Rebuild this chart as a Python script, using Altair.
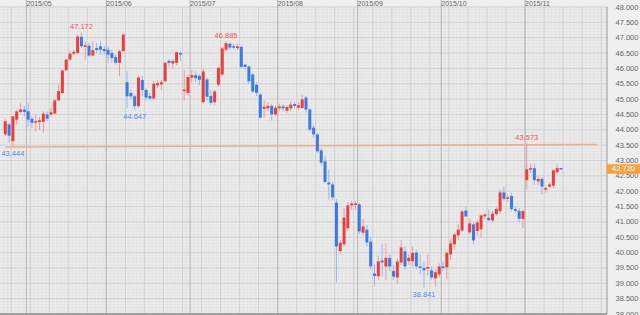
import altair as alt
import pandas as pd

# ---------------- data (daily candles) ----------------
start_date = "2015-04-23"

opens = [43.85, 44.17, 43.63, 44.33, 44.58, 44.66, 44.60, 44.36, 44.23, 44.25,
         44.26, 44.50, 44.50, 44.53, 44.96, 45.20, 45.94, 46.29, 46.48, 46.50,
         47.03, 46.70, 46.74, 46.42, 46.66, 46.72, 46.63, 46.61, 46.50, 46.37,
         46.18, 46.56, 45.55, 45.20, 45.09, 44.77, 45.62, 45.30, 45.10, 45.02,
         45.45, 45.48, 45.58, 46.25, 46.16, 46.18, 46.50, 45.26, 45.20, 45.70,
         45.78, 45.76, 44.90, 45.64, 45.10, 44.90, 45.47, 45.80, 46.61, 46.80,
         46.72, 46.66, 46.70, 46.12, 46.06, 45.80, 45.47, 45.15, 44.68, 44.70,
         44.78, 44.50, 44.70, 44.76, 44.62, 44.70, 44.84, 44.72, 44.71, 45.05,
         44.66, 44.07, 43.85, 43.33, 42.97, 42.28, 42.22, 41.63, 40.05, 40.27,
         40.79, 41.54, 41.55, 41.57, 40.65, 40.75, 40.36, 39.32, 39.23, 39.74,
         39.55, 39.83, 39.40, 39.19, 39.68, 40.04, 39.72, 39.72, 40.00, 39.55,
         39.50, 39.48, 39.42, 39.16, 39.29, 39.55, 39.52, 39.94, 40.27, 40.56,
         40.72, 41.37, 40.66, 40.92, 40.70, 40.76, 41.18, 41.13, 41.05, 41.25,
         41.35, 41.96, 41.75, 41.84, 41.42, 41.36, 41.10, 42.36, 42.70, 42.75,
         42.32, 42.40, 42.05, 42.15, 42.18, 42.62, 42.74]
highs = [44.35, 44.23, 44.45, 44.66, 44.88, 44.77, 44.88, 44.44, 44.50, 44.42,
         44.60, 44.60, 44.72, 45.00, 45.47, 45.96, 46.30, 46.56, 46.60, 47.10,
         47.172, 46.87, 46.83, 46.88, 46.83, 46.88, 46.72, 46.72, 46.61, 46.45,
         46.61, 47.15, 45.91, 45.31, 45.15, 45.75, 45.75, 45.35, 45.20, 45.60,
         45.62, 45.62, 46.22, 46.30, 46.30, 46.55, 46.55, 45.96, 45.78, 45.95,
         45.90, 45.80, 46.00, 45.70, 45.30, 45.30, 46.05, 46.70, 46.885, 46.85,
         46.80, 46.82, 46.75, 46.15, 46.10, 45.85, 45.55, 45.20, 44.95, 44.90,
         44.85, 44.80, 44.85, 44.85, 44.80, 44.92, 44.90, 44.90, 45.15, 45.10,
         44.70, 44.15, 43.90, 43.40, 43.15, 42.70, 42.30, 41.75, 40.40, 41.45,
         41.65, 41.68, 41.68, 41.63, 41.10, 40.90, 40.50, 39.62, 39.90, 40.28,
         40.30, 39.95, 39.60, 39.80, 40.40, 40.20, 39.95, 40.20, 40.10, 39.95,
         39.70, 39.95, 39.55, 39.45, 39.65, 39.70, 40.05, 40.45, 40.65, 40.92,
         41.40, 41.52, 41.10, 40.98, 41.05, 41.26, 41.30, 41.40, 41.35, 41.50,
         42.06, 42.15, 41.90, 41.95, 41.50, 41.45, 41.40, 43.573, 42.90, 42.90,
         42.50, 42.45, 42.15, 42.28, 42.72, 42.88, 42.76]
lows = [43.80, 43.58, 43.444, 44.17, 44.53, 44.44, 44.12, 44.06, 43.95, 44.01,
        43.90, 44.28, 44.44, 44.50, 44.93, 45.15, 45.92, 46.23, 46.44, 46.45,
        46.67, 46.29, 46.38, 46.39, 46.50, 46.45, 46.45, 46.18, 46.18, 46.12,
        45.75, 46.55, 44.70, 44.99, 44.647, 44.72, 45.10, 44.95, 44.95, 44.98,
        45.35, 45.30, 45.55, 46.05, 46.00, 46.10, 46.24, 44.95, 45.10, 45.55,
        45.55, 45.45, 44.85, 44.95, 44.80, 44.80, 45.40, 45.75, 46.55, 46.60,
        46.62, 46.60, 45.98, 45.95, 45.50, 45.20, 45.10, 44.35, 44.40, 44.60,
        44.30, 44.45, 44.62, 44.60, 44.55, 44.60, 44.70, 44.65, 44.70, 44.55,
        43.95, 43.75, 43.25, 42.85, 42.25, 41.73, 41.70, 39.02, 39.95, 40.20,
        40.70, 41.40, 41.40, 40.60, 40.55, 40.20, 39.45, 38.91, 39.10, 39.22,
        39.10, 39.40, 39.10, 38.98, 39.60, 39.45, 39.60, 39.55, 39.45, 39.30,
        38.841, 39.25, 39.10, 38.88, 39.20, 39.40, 39.13, 39.75, 40.10, 40.40,
        40.68, 41.15, 40.60, 40.27, 40.55, 40.50, 41.10, 41.02, 41.00, 41.20,
        41.25, 41.70, 41.65, 41.35, 41.30, 40.98, 40.80, 42.06, 42.60, 42.20,
        42.20, 41.89, 41.95, 42.10, 42.10, 42.55, 42.70]
closes = [44.28, 43.81, 44.44, 44.60, 44.66, 44.58, 44.33, 44.23, 44.28, 44.31,
          44.53, 44.36, 44.57, 44.96, 45.26, 45.93, 46.29, 46.48, 46.54, 47.04,
          46.72, 46.75, 46.42, 46.59, 46.60, 46.61, 46.56, 46.45, 46.34, 46.18,
          46.56, 47.10, 45.09, 45.09, 44.77, 45.70, 45.30, 45.05, 45.02, 45.50,
          45.52, 45.55, 46.18, 46.18, 46.24, 46.53, 46.45, 45.31, 45.72, 45.78,
          45.68, 45.63, 45.90, 45.08, 44.88, 45.25, 46.02, 46.65, 46.82, 46.68,
          46.68, 46.72, 46.05, 46.05, 45.58, 45.25, 45.21, 44.40, 44.75, 44.78,
          44.50, 44.72, 44.76, 44.70, 44.74, 44.82, 44.78, 44.80, 44.99, 44.66,
          44.01, 43.85, 43.30, 42.93, 42.30, 42.22, 41.80, 40.20, 40.32, 41.14,
          41.54, 41.60, 41.60, 40.69, 40.85, 40.33, 39.55, 39.24, 39.71, 39.68,
          39.83, 39.55, 39.22, 39.71, 40.17, 39.55, 39.83, 39.99, 39.55, 39.50,
          39.42, 39.53, 39.19, 39.36, 39.55, 39.50, 39.99, 40.30, 40.59, 40.75,
          41.34, 41.18, 40.95, 40.40, 40.98, 41.21, 41.24, 41.06, 41.27, 41.42,
          41.96, 41.75, 41.80, 41.42, 41.36, 41.10, 41.35, 42.71, 42.75, 42.36,
          42.40, 42.15, 42.10, 42.22, 42.68, 42.75, 42.72]

# labelled highs / lows (candle index, value)
high_idx = [20, 58, 137]
high_val = [47.172, 46.885, 43.573]
low_idx = [2, 34, 110]
low_val = [43.444, 44.647, 38.841]

# orange trend line (candle index, value)
trend_idx = [0, 155.5]
trend_val = [43.44, 43.52]

y_ticks = [38.0, 38.5, 39.0, 39.5, 40.0, 40.5, 41.0, 41.5, 42.0, 42.5, 43.0,
           43.5, 44.0, 44.5, 45.0, 45.5, 46.0, 46.5, 47.0, 47.5, 48.0]

# ---------------- tables ----------------
n = len(opens)
n_slots = 158
all_dates = pd.bdate_range(start_date, periods=n_slots)

df = pd.DataFrame({"i": list(range(n)), "open": opens, "high": highs,
                   "low": lows, "close": closes})
df["up"] = df["close"] >= df["open"]
lo = df[["open", "close"]].min(axis=1)
hi = df[["open", "close"]].max(axis=1)
mid = (lo + hi) / 2
small = (hi - lo) < 0.05
df["blo"] = lo.where(~small, mid - 0.025)
df["bhi"] = hi.where(~small, mid + 0.025)

grid_all = pd.DataFrame({"g": [k - 0.45 for k in range(n_slots)]})
mondays = pd.DataFrame({"g": [k - 0.45 for k in range(n_slots)
                              if all_dates[k].weekday() == 0]})
m_rows = []
for k in range(1, n_slots):
    if all_dates[k].month != all_dates[k - 1].month:
        m_rows.append({"g": k - 0.45, "label": all_dates[k].strftime("%Y/%m")})
months = pd.DataFrame(m_rows)

h_minor = pd.DataFrame({"v": [round(38.0 + 0.1 * k, 2) for k in range(101)]})
h_major = pd.DataFrame({"v": y_ticks})

hl = pd.DataFrame({"i": high_idx, "v": high_val,
                   "t": [f"{v:.3f}" for v in high_val]})
ll = pd.DataFrame({"i": low_idx, "v": low_val,
                   "t": [f"{v:.3f}" for v in low_val]})
trend = pd.DataFrame({"i": trend_idx, "v": trend_val})
last = closes[-1]
tag = pd.DataFrame({"v": [last], "v1": [last - 0.155], "v2": [last + 0.155],
                    "t": [f"{last:.3f}"]})

# ---------------- chart ----------------
W, H = 607, 307
FONT = "Liberation Sans, Arial, sans-serif"
RED, BLUE = "#e8403f", "#3b7be3"
RED_W, BLUE_W = "#f19a9a", "#94b9f0"

xs = alt.Scale(domain=[-0.08, 156.77], nice=False, zero=False)
ys = alt.Scale(domain=[38.0, 48.0], nice=False, zero=False)
yaxis = alt.Axis(orient="right", values=y_ticks, format=".3f", title=None,
                 grid=False, domain=False, ticks=False, labelPadding=8,
                 labelFontSize=7.5, labelColor="#666666", labelFont=FONT,
                 labelAlign="left", labelOverlap=False, labelFlush=False,
                 labelBound=False)


def X(f):
    return alt.X(f, type="quantitative", scale=xs, axis=None)


def Y(f):
    return alt.Y(f, type="quantitative", scale=ys, axis=yaxis)


hminor = alt.Chart(h_minor).mark_rule(color="#e2e2e2", strokeWidth=1).encode(
    y=Y("v"), x=alt.value(0), x2=alt.value(W))
vminor = alt.Chart(grid_all).mark_rule(color="#e4e4e4", strokeWidth=1).encode(
    x=X("g"), y=alt.value(0), y2=alt.value(H))
hmajor = alt.Chart(h_major).mark_rule(color="#d2d2d2", strokeWidth=1).encode(
    y=Y("v"), x=alt.value(0), x2=alt.value(W))
vweek = alt.Chart(mondays).mark_rule(color="#d0d0d0", strokeWidth=1).encode(
    x=X("g"), y=alt.value(0), y2=alt.value(H))
vmonth = alt.Chart(months).mark_rule(color="#bcbcbc", strokeWidth=1.2).encode(
    x=X("g"), y=alt.value(-7), y2=alt.value(H))
mlabels = alt.Chart(months).mark_text(
    align="left", baseline="middle", fontSize=7, font=FONT, color="#666666",
    dx=0).encode(x=X("g"), y=alt.value(-3.3), text="label:N")

trendline = alt.Chart(trend).mark_line(color="#f2ad84", strokeWidth=1.6).encode(
    x=X("i"), y=Y("v"))

wicks = alt.Chart(df).mark_rule(strokeWidth=1).encode(
    x=X("i"), y=Y("low"), y2=alt.Y2("high"),
    color=alt.condition("datum.up", alt.value(RED_W), alt.value(BLUE_W)))
bodies = alt.Chart(df).mark_bar(size=3).encode(
    x=X("i"), y=Y("blo"), y2=alt.Y2("bhi"),
    color=alt.condition("datum.up", alt.value(RED), alt.value(BLUE)))

hitext = alt.Chart(hl).mark_text(
    baseline="bottom", dy=-1, fontSize=7.5, font=FONT, color="#f05555").encode(
    x=X("i"), y=Y("v"), text="t:N")
lotext = alt.Chart(ll).mark_text(
    baseline="top", dy=3, fontSize=7.5, font=FONT, color="#4a8fe6").encode(
    x=X("i"), y=Y("v"), text="t:N")

border_r = alt.Chart(tag).mark_rule(color="#9a9a9a", strokeWidth=1).encode(
    x=alt.value(W), y=alt.value(0), y2=alt.value(H))
border_b = alt.Chart(tag).mark_rule(color="#8c8c8c", strokeWidth=1.5).encode(
    y=alt.value(H), x=alt.value(0), x2=alt.value(W))

tag_box = alt.Chart(tag).mark_rect(color="#f6a13c").encode(
    x=alt.value(W), x2=alt.value(640), y=Y("v1"), y2=alt.Y2("v2"))
tag_txt = alt.Chart(tag).mark_text(
    align="center", baseline="middle", fontSize=7.5, font=FONT,
    color="#ffffff").encode(x=alt.value(W + 16.5), y=Y("v"), text="t:N")

chart = alt.layer(
    hminor, vminor, hmajor, vweek, vmonth, mlabels, trendline,
    wicks, bodies, hitext, lotext, border_r, border_b, tag_box, tag_txt
).properties(
    width=W, height=H,
    padding={"left": 0, "top": 7, "right": 33, "bottom": 1},
    autosize=alt.AutoSizeParams(type="none"),
    background="#efefef",
).configure_view(fill="#ececec", stroke=None)

chart.save("out.html", embed_options={"renderer": "svg", "actions": False})
